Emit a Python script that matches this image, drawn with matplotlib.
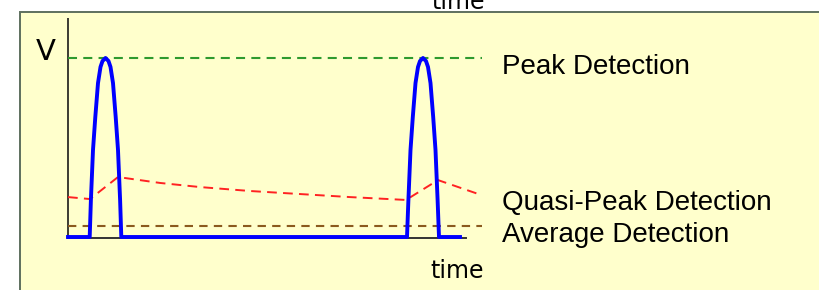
import matplotlib
matplotlib.use("Agg")
import matplotlib.pyplot as plt
from matplotlib.patches import Rectangle

plt.rcParams['lines.scale_dashes'] = False

# ---- data ----
# blue trace: input signal (two pulses)
signal_t = [0,
            0.5425, 0.5725, 0.625, 0.6825, 0.75, 0.8125, 0.8625, 0.9375, 1.0125, 1.0625, 1.125, 1.1925, 1.25, 1.3025, 1.3325,
            8.475, 8.51, 8.5625, 8.62, 8.6875, 8.75, 8.8, 8.875, 8.95, 9.0, 9.0625, 9.13, 9.1875, 9.24, 9.275,
            9.8]
signal_v = [0,
            0, 0.207, 0.486, 0.67, 0.86, 0.95, 0.983, 1.0, 0.983, 0.95, 0.86, 0.67, 0.486, 0.207, 0,
            0, 0.207, 0.486, 0.67, 0.86, 0.95, 0.983, 1.0, 0.983, 0.95, 0.86, 0.67, 0.486, 0.207, 0,
            0]
# quasi-peak detector output
qp_t = [0, 0.55, 1.25, 2.3, 3.3, 4.55, 5.8, 7.05, 8.45, 9.25, 10.325]
qp_v = [0.223, 0.212, 0.335, 0.302, 0.279, 0.257, 0.240, 0.223, 0.207, 0.318, 0.235]
peak_level = 1.0
average_level = 0.064
level_t_end = 10.35
axis_t_end = 9.95
axis_v_top = 1.223

labels = ["Peak Detection", "Quasi-Peak Detection", "Average Detection"]
y_label = "V"
x_label = "time"

# ---- figure ----
W, H = 820, 290
fig = plt.figure(figsize=(W / 100, H / 100), dpi=100)
fig.patch.set_facecolor("white")

def fx(px):
    return px / W

def fy(py):
    return 1 - py / H

ax = fig.add_axes([0, 0, 1, 1])
ax.set_facecolor("none")
px_per_t = 40.0
px_per_v = 179.0
ax.set_xlim(-68 / px_per_t, (W - 68) / px_per_t)
ax.set_ylim(-(H - 237) / px_per_v, 237 / px_per_v)
ax.axis("off")

# yellow panel
ax.add_patch(Rectangle((fx(20), fy(300)), fx(820) - fx(20) + 0.02, fy(12) - fy(300),
                       transform=fig.transFigure, facecolor="#FFFFCC",
                       edgecolor="#5E705E", linewidth=1.4, zorder=0, clip_on=False))

# clipped caption of a previous figure at the very top
fig.text(fx(431), fy(9), x_label, fontsize=17, family="DejaVu Sans",
         ha="left", va="baseline", color="black")

# axes lines
ax.plot([0, 0], [-0.006, axis_v_top], color="#1a1a1a", lw=1.2, solid_capstyle="butt", zorder=2)
ax.plot([0, axis_t_end], [-0.006, -0.006], color="#333333", lw=1.4, zorder=2)

# detector levels
ax.plot([0, level_t_end], [peak_level, peak_level], color="#2E9A2E", lw=1.5,
        linestyle=(0, (6.5, 4.5)), zorder=3)
ax.plot([0, level_t_end], [average_level, average_level], color="#8B5A1E", lw=1.5,
        linestyle=(0, (6.0, 4.5)), zorder=3)
ax.plot(qp_t, qp_v, color="#FF2222", lw=1.4, linestyle=(0, (7.0, 4.5)), zorder=3)

# signal
ax.plot(signal_t, signal_v, color="#0000FF", lw=2.8, solid_joinstyle="round", zorder=4)

# texts
narrow = ["Liberation Sans", "DejaVu Sans"]
tx = (502 - 68) / px_per_t
ax.text(tx, (237 - 74) / px_per_v, labels[0],
        fontsize=20, family=narrow, ha="left", va="baseline", color="black")
ax.text(tx, (237 - 210) / px_per_v, labels[1],
        fontsize=20, family=narrow, ha="left", va="baseline", color="black")
ax.text(tx, (237 - 242) / px_per_v, labels[2],
        fontsize=20, family=narrow, ha="left", va="baseline", color="black")
ax.text((36 - 68) / px_per_t, (237 - 60) / px_per_v, y_label,
        fontsize=21, family="DejaVu Sans", ha="left", va="baseline", color="black")
ax.text((430 - 68) / px_per_t, (237 - 278) / px_per_v, x_label,
        fontsize=17, family="DejaVu Sans", ha="left", va="baseline", color="black")

fig.savefig("out.png", dpi=100, facecolor="white")
